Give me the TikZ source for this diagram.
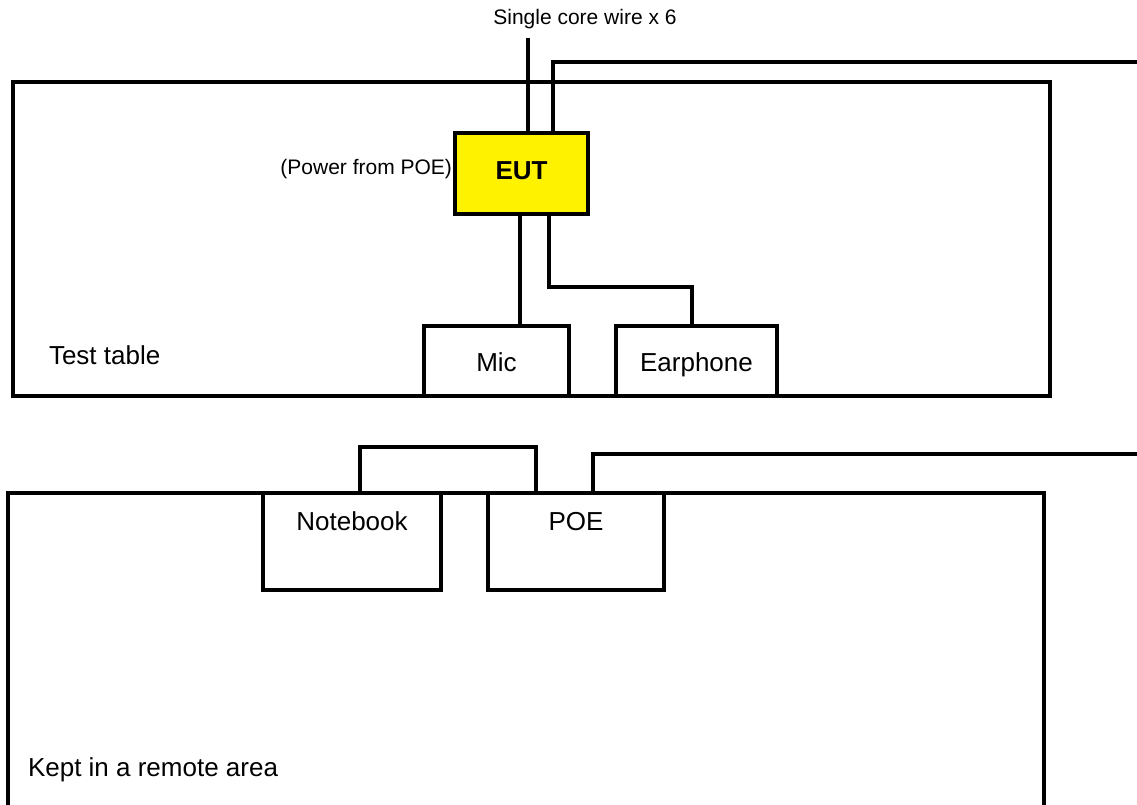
\documentclass[tikz,border=0pt]{standalone}
\usepackage{fontspec}
\setmainfont{Liberation Sans}
\begin{document}
\begin{tikzpicture}[x=1pt,y=-1pt,
  every node/.style={inner sep=0pt, outer sep=0pt},
  region/.style={draw, line width=3.3pt, rectangle, anchor=north west, line join=miter},
  box/.style={draw, fill=white, line width=3.3pt, rectangle, anchor=north west, line join=miter,
    font=\fontsize{26}{30}\selectfont, text height=21pt, text depth=0pt},
  eutbox/.style={box, fill=yellow, font=\fontsize{26}{30}\selectfont\bfseries, text height=19pt, text depth=6pt},
  wire/.style={line width=3.3pt, line join=miter},
  big/.style={font=\fontsize{26}{30}\selectfont},
  small/.style={font=\fontsize{21}{25}\selectfont}]
\useasboundingbox (0,0) rectangle (1137,805);
\clip (0,0) rectangle (1137,805);
% regions
\node[region, minimum width=1037pt, minimum height=314pt] (table) at (13,82) {};
\node[region, minimum width=1036pt, minimum height=340pt] (remote) at (8,493) {};
% wire ends
\coordinate (top) at (528,38);
\coordinate (out1) at (1140,62);
\coordinate (out2) at (1140,454);
% boxes
\node[eutbox, minimum width=133pt, minimum height=81pt] (EUT) at (455,133) {EUT};
\node[box, minimum width=145pt, minimum height=70pt] (Mic) at (424,326) {Mic};
\node[box, minimum width=161pt, minimum height=70pt] (Ear) at (616,326) {Earphone};
\node[box, minimum width=178pt, minimum height=97pt,
  label={[big, anchor=base, yshift=-37pt]north:Notebook}] (NB) at (263,493) {};
\node[box, minimum width=176pt, minimum height=97pt,
  label={[big, anchor=base, yshift=-37pt]north:POE}] (POE) at (488,493) {};
% texts
\node[small, anchor=base] (wirelbl) at (585,25) {Single core wire x 6};
\node[small, anchor=base east] (pwrlbl) at (452,175) {(Power from POE)};
\node[big, anchor=base west] (tablelbl) at (49,364) {Test table};
\node[big, anchor=base west] (remotelbl) at (28,776) {Kept in a remote area};
% connectors
\draw[wire] (top) -- (top |- EUT.north);
\draw[wire] ([xshift=31.5pt]EUT.north) |- (out1);
\draw[wire] ([xshift=-1.5pt]EUT.south) -- ([xshift=-1.5pt]EUT.south |- Mic.north);
\draw[wire] ([xshift=27.5pt]EUT.south) -- ++(0,-73pt) -| ([xshift=-4.5pt]Ear.north);
\draw[wire] ([xshift=8pt]NB.north) -- ++(0,46pt) -| ([xshift=-40pt]POE.north);
\draw[wire] ([xshift=17pt]POE.north) |- (out2);
\end{tikzpicture}
\end{document}
